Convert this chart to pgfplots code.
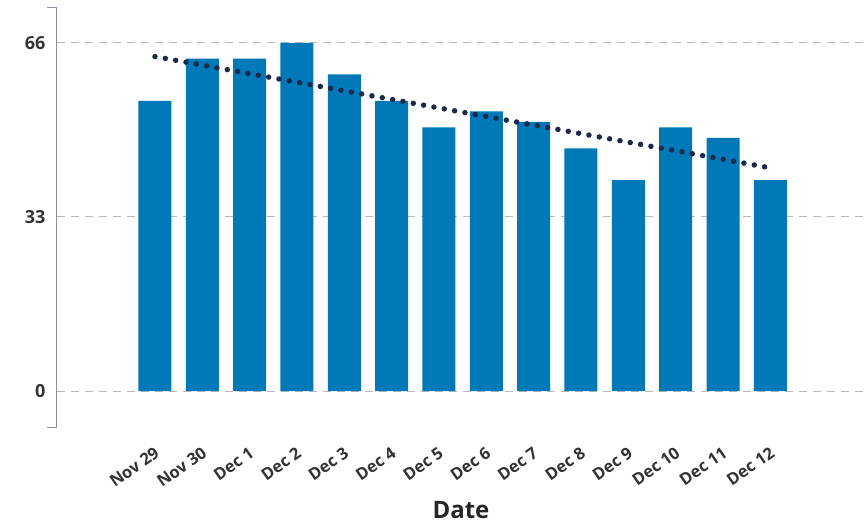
\documentclass[border=0pt]{standalone}
\usepackage{pgfplots}
\pgfplotsset{compat=1.18}
\usepackage{fontspec}
\setmainfont{Open Sans}
\definecolor{barblue}{RGB}{0,121,184}
\definecolor{trend}{RGB}{30,40,75}
\definecolor{axisgray}{RGB}{140,140,160}
\definecolor{gridgray}{RGB}{185,185,185}

\begin{document}
\begin{tikzpicture}[x=1pt,y=1pt]
\useasboundingbox (0,0) rectangle (865,523);
\begin{axis}[
  at={(57pt,96pt)}, anchor=south west,
  scale only axis, width=808pt, height=419pt,
  ybar, bar width=33pt,
  xmin=-2.07, xmax=15,
  ymin=-6.8, ymax=72.6,
  ytick={0,33,66}, yticklabels={0,33,66},
  xtick={0,...,13},
  xticklabels={Nov 29,Nov 30,Dec 1,Dec 2,Dec 3,Dec 4,Dec 5,Dec 6,Dec 7,Dec 8,Dec 9,Dec 10,Dec 11,Dec 12},
  axis y line*=left, axis x line*=bottom,
  x axis line style={draw=none},
  y axis line style={draw=axisgray, line width=1pt},
  major tick length=0pt,
  ymajorgrids=true,
  grid style={gridgray, line width=1pt, dash pattern=on 8pt off 6pt},
  yticklabel style={font=\fontsize{18}{20}\selectfont\bfseries, text=black!80, xshift=-8pt},
  xticklabel style={font=\fontsize{16.5}{18}\selectfont\bfseries, text=black!80, yshift=-22pt, xshift=5pt, rotate=35, anchor=east},
  xlabel={Date},
  xlabel style={font=\fontsize{24}{26}\selectfont\bfseries, text=black!85, at={(axis description cs:0.5,0)}, anchor=center, yshift=-83pt},
  clip=false,
]
\addplot[fill=barblue, draw=none] coordinates {
  (0,55) (1,63) (2,63) (3,66) (4,60) (5,55) (6,50) (7,53)
  (8,51) (9,46) (10,40) (11,50) (12,48) (13,40)
};
\addplot[sharp plot, draw=trend, line width=5.5pt, line cap=round, dash pattern=on 0pt off 10.5pt] coordinates {
  (0,63.4) (13,42.3)
};
\draw[axisgray, line width=1pt] (rel axis cs:0,1) -- ++(-10pt,0pt);
\draw[axisgray, line width=1pt] (rel axis cs:0,0) -- ++(-10pt,0pt);
\end{axis}
\end{tikzpicture}
\end{document}
